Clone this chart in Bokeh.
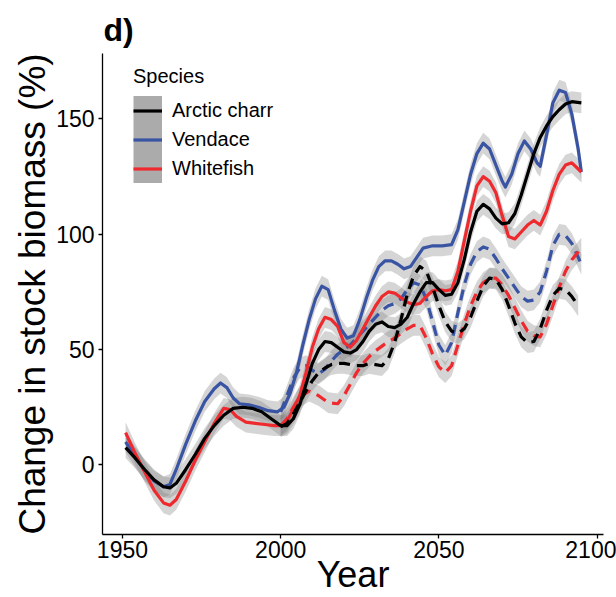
from bokeh.plotting import figure
from bokeh.models import Legend, LegendItem, Range1d, FixedTicker, ColumnDataSource
from bokeh.embed import file_html
from bokeh.resources import INLINE

FONT = "Liberation Sans"

# Arctic charr
charr_years = [1951, 1954, 1957, 1960, 1963, 1965, 1967, 1970, 1973, 1976, 1979, 1982, 1985, 1988,
               1991, 1994, 1997, 2000, 2002, 2004, 2006, 2008, 2010, 2012, 2014, 2016, 2018, 2020,
               2022, 2024, 2026, 2028, 2030, 2032, 2034, 2036, 2038, 2040, 2042, 2044, 2046, 2048,
               2050, 2052, 2054, 2056, 2058, 2060, 2062, 2064, 2066, 2068, 2070, 2072, 2074, 2076,
               2078, 2080, 2082, 2084, 2086, 2088, 2090, 2092, 2095]
charr_main = [7.5, 3, -2, -6.5, -9.5, -10, -8, -2, 4.5, 11.5, 17, 21.5, 24.5, 25,
              24.5, 23, 20, 17, 17, 20, 26, 35, 44, 50, 53.5, 53, 51, 49,
              48.5, 50, 53.5, 58, 61, 62, 60, 59.5, 61, 64, 70, 75, 79, 79,
              76, 73.5, 74, 79, 89, 101, 110, 113, 111, 107, 104.5, 105, 109, 117,
              126, 135, 142, 147, 151, 154, 156.5, 157.5, 157]
charr_alt_years = [2000, 2002, 2004, 2006, 2008, 2010, 2012, 2014, 2016, 2018, 2020, 2022, 2024,
                   2026, 2028, 2030, 2032, 2034, 2036, 2038, 2040, 2042, 2044, 2046, 2048, 2050,
                   2052, 2054, 2056, 2058, 2060, 2062, 2064, 2066, 2068, 2070, 2072, 2074, 2076,
                   2078, 2080, 2082, 2084, 2086, 2088, 2090, 2092, 2094]
charr_alt = [16.5, 18, 22, 27, 32, 36.5, 40, 42, 43.5, 44, 44, 43.5, 43,
             43, 44, 43.5, 43, 46, 53, 63, 74, 82, 86, 84, 77, 69,
             62, 58, 57, 59, 64, 71, 77.5, 81, 80.5, 76, 69, 61.5, 55.5,
             53, 53.5, 59, 67, 73.5, 76.5, 76, 73, 69]

# Vendace
vendace_years = [1951, 1954, 1957, 1960, 1963, 1965, 1967, 1970, 1973, 1976, 1979, 1981, 1983, 1985,
                 1987, 1990, 1993, 1996, 1999, 2001, 2003, 2005, 2007, 2009, 2011, 2013, 2015, 2017,
                 2019, 2021, 2023, 2025, 2027, 2029, 2031, 2033, 2035, 2037, 2039, 2041, 2043, 2045,
                 2048, 2051, 2054, 2056, 2058, 2060, 2062, 2064, 2066, 2068, 2070, 2071, 2073, 2075,
                 2077, 2079, 2081, 2082, 2084, 2086, 2088, 2090, 2092, 2094, 2095]
vendace_main = [10, 3.5, -2.5, -7, -9.5, -8.5, -2, 9, 19, 27.5, 33, 35.5, 33.5, 29,
                26.5, 26, 25, 23.5, 23, 25, 31, 40, 52, 63, 72, 77.5, 76, 67,
                59, 55, 56, 63, 72, 80, 86, 88.5, 88.5, 87, 85, 86, 90, 94,
                95, 95, 95.5, 102, 114, 126, 135, 139.5, 137, 130, 123, 120.5, 126, 135,
                140.5, 137, 131, 129.5, 143, 157, 162.5, 161.5, 152, 137, 127]
vendace_alt_years = [2000, 2002, 2004, 2006, 2008, 2010, 2012, 2014, 2016, 2018, 2020, 2022, 2024,
                     2026, 2028, 2030, 2032, 2034, 2036, 2038, 2040, 2042, 2044, 2046, 2048, 2050,
                     2052, 2054, 2056, 2058, 2060, 2062, 2064, 2066, 2068, 2070, 2072, 2074, 2076,
                     2078, 2080, 2082, 2084, 2086, 2088, 2090, 2092, 2095]
vendace_alt = [23, 30, 37.5, 42, 43, 41, 39.5, 41.5, 45, 48, 50, 52, 55,
               58, 61, 64, 67, 69, 70, 72, 76, 79, 78, 72, 62, 52,
               47.5, 53, 66, 78, 87, 92.5, 94.5, 93.5, 89.5, 85, 81, 77, 73,
               71, 71.5, 75, 84, 95, 100, 99.5, 96, 87]

# Whitefish
white_years = [1951, 1954, 1957, 1960, 1963, 1965, 1967, 1970, 1973, 1976, 1979, 1982, 1984, 1986,
               1989, 1992, 1995, 1998, 2000, 2002, 2004, 2006, 2008, 2010, 2012, 2014, 2016, 2018,
               2020, 2022, 2024, 2026, 2028, 2030, 2032, 2034, 2036, 2038, 2040, 2042, 2044, 2046,
               2048, 2050, 2052, 2054, 2056, 2058, 2060, 2062, 2064, 2066, 2068, 2070, 2072, 2074,
               2076, 2078, 2080, 2082, 2084, 2086, 2088, 2090, 2092, 2095]
white_main = [14, 5, -3, -11, -16.5, -17.5, -15, -7, 2, 10, 18, 24.5, 24, 21,
              18.5, 18, 17.5, 17, 17, 19, 24, 30, 40, 51, 59, 64, 63, 60,
              53, 51, 54, 59, 64, 69, 73, 75, 74.5, 72.5, 70.5, 69.5, 70, 73,
              75.5, 76, 75.5, 76, 84, 97, 110, 121, 125, 123, 118, 108, 99, 98,
              101, 104, 106, 104, 110, 119, 126, 130, 131, 127]
white_alt_years = [2000, 2002, 2004, 2006, 2009, 2012, 2015, 2018, 2020, 2022, 2024, 2026, 2028,
                   2030, 2032, 2034, 2036, 2038, 2040, 2042, 2044, 2046, 2048, 2050, 2052, 2054,
                   2056, 2058, 2060, 2062, 2064, 2066, 2068, 2070, 2072, 2074, 2076, 2078, 2080,
                   2082, 2084, 2086, 2088, 2090, 2092, 2095]
white_alt = [17, 20, 25, 29.5, 32, 30, 27, 26.5, 30, 35, 40, 44, 47,
             49.5, 51.5, 53.5, 55, 57, 59, 60.5, 60.5, 55, 48, 42.5, 40, 43,
             52, 61, 69, 75, 79, 81, 81, 78, 73.5, 68, 62.5, 58, 56,
             55.5, 61, 69, 77, 84, 89, 94]

species = ["Arctic charr", "Vendace", "Whitefish"]
colors = {"Arctic charr": "black", "Vendace": "#3A54A4", "Whitefish": "#EE2A2F"}
band_half = 4.5  # half-width of the uncertainty ribbon
DASH = "11 7"

series = [
    ("Vendace", vendace_years, vendace_main, "solid"),
    ("Vendace", vendace_alt_years, vendace_alt, DASH),
    ("Whitefish", white_years, white_main, "solid"),
    ("Whitefish", white_alt_years, white_alt, DASH),
    ("Arctic charr", charr_years, charr_main, "solid"),
    ("Arctic charr", charr_alt_years, charr_alt, DASH),
]

p = figure(width=616, height=597, output_backend="svg", toolbar_location=None,
           x_range=Range1d(1943.7, 2102.0), y_range=Range1d(-30.2, 178.4),
           min_border_left=102, min_border_right=13, min_border_top=53, min_border_bottom=63,
           background_fill_color="white", border_fill_color="white", outline_line_color=None)

# ribbons underneath every line
for name, yrs, vals, dash in series:
    src = ColumnDataSource(dict(x=yrs, lo=[v - band_half for v in vals], hi=[v + band_half for v in vals]))
    p.varea(x="x", y1="lo", y2="hi", source=src, fill_color="grey", fill_alpha=0.33)

solid_lines = {}
for name, yrs, vals, dash in series:
    r = p.line(yrs, vals, line_color=colors[name], line_width=3.2, line_dash=dash,
               line_join="round")
    if dash == "solid":
        solid_lines[name] = r

p.grid.visible = False
for ax in (p.xaxis, p.yaxis):
    ax.axis_line_color = "black"
    ax.axis_line_width = 1.3
    ax.major_tick_line_color = "black"
    ax.major_tick_line_width = 1.3
    ax.major_tick_in = 0
    ax.major_tick_out = 4
    ax.minor_tick_line_color = None
    ax.major_label_text_font = FONT
    ax.major_label_text_font_size = "23px"
    ax.major_label_text_color = "black"
    ax.axis_label_text_font = FONT
    ax.axis_label_text_font_style = "normal"
    ax.axis_label_text_color = "black"

p.xaxis.ticker = FixedTicker(ticks=[1950, 2000, 2050, 2100])
p.yaxis.ticker = FixedTicker(ticks=[0, 50, 100, 150])
p.xaxis.major_label_standoff = 2
p.xaxis.axis_label = "Year"
p.xaxis.axis_label_text_font_size = "36px"
p.xaxis.axis_label_standoff = -7
p.yaxis.major_label_standoff = 4
p.yaxis.axis_label = "Change in stock biomass (%)"
p.yaxis.axis_label_text_font_size = "37px"
p.yaxis.axis_label_standoff = 0

p.title.text = "d)"
p.title.text_font = FONT
p.title.text_font_size = "32px"
p.title.text_font_style = "bold"
p.title.text_color = "black"
p.title.offset = 1
p.title.standoff = 12

# legend keys: grey ribbon swatch under each species' line
items = []
for name in species:
    swatch = p.line(x=[1950, 1951], y=[-500, -500], line_color="#ABABAB", line_width=30,
                    line_cap="butt")
    items.append(LegendItem(label=name, renderers=[swatch, solid_lines[name]]))

legend = Legend(items=items, title="Species", location=(31, 351),
                glyph_width=29, glyph_height=29, spacing=0, padding=0, margin=0,
                label_standoff=10, label_height=29,
                label_text_font=FONT, label_text_font_size="20px", label_text_color="black",
                title_text_font=FONT, title_text_font_size="20px", title_text_font_style="normal",
                title_text_color="black", title_standoff=8,
                border_line_color=None, background_fill_alpha=0)
p.add_layout(legend)

open("out.html", "w").write(file_html(p, INLINE))
